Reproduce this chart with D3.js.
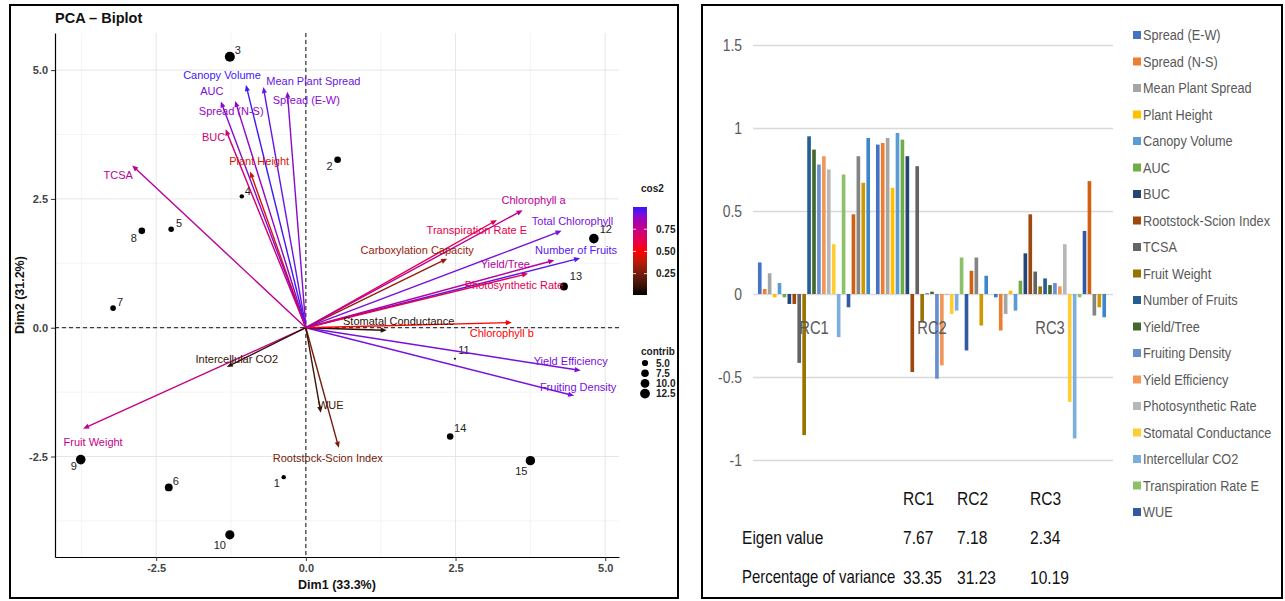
<!DOCTYPE html>
<html>
<head>
<meta charset="utf-8">
<script src="https://cdn.jsdelivr.net/npm/d3@7"></script>
<style>
  body { margin: 0; background: #fff; }
  svg { display: block; }
</style>
</head>
<body>
<div id="chart"></div>
<script>
// ---- biplot: individuals ----
var indIds = ["1", "2", "3", "4", "5", "6", "7", "8", "9", "10", "11", "12", "13", "14", "15"];
var indX = [-0.37, 0.53, -1.27, -1.07, -2.25, -2.29, -3.22, -2.74, -3.76, -1.27, 2.49, 4.81, 4.31, 2.41, 3.75];
var indY = [-2.9, 3.26, 5.26, 2.55, 1.91, -3.1, 0.38, 1.88, -2.56, -4.02, -0.6, 1.73, 0.8, -2.11, -2.58];
var indContrib = [2.5, 5.7, 13, 2.5, 4, 8, 4, 5.7, 12, 11, 0.5, 12, 8.3, 5.5, 11.5];

// ---- biplot: variables (same order as the bar series) ----
var varNames = ["Spread (E-W)", "Spread (N-S)", "Mean Plant Spread", "Plant Height", "Canopy Volume",
  "AUC", "BUC", "Rootstock-Scion Index", "TCSA", "Fruit Weight", "Number of Fruits", "Yield/Tree",
  "Fruiting Density", "Yield Efficiency", "Photosynthetic Rate", "Stomatal Conductance",
  "Intercellular CO2", "Transpiration Rate E", "WUE", "Carboxylation Capacity", "Chlorophyll a",
  "Chlorophyll b", "Total Chlorophyll"];
var varX = [-0.31, -1.18, -0.71, -0.93, -1.0, -1.42, -1.34, 0.55, -2.9, -3.72, 4.58, 4.15, 4.48, 4.59, 3.71, 1.35, -1.32, 3.19, 0.25, 2.36, 3.62, 3.44, 4.27];
var varY = [4.58, 4.4, 4.67, 3.03, 4.71, 4.39, 3.85, -2.33, 3.15, -1.96, 1.35, 1.31, -1.32, -0.83, 1.05, -0.05, -0.76, 2.09, -1.65, 1.34, 2.28, 0.1, 1.88];
var varCos2 = [0.9, 0.88, 0.95, 0.43, 0.99, 0.91, 0.71, 0.24, 0.78, 0.75, 0.97, 0.8, 0.93, 0.93, 0.63, 0.08, 0.1, 0.62, 0.12, 0.31, 0.78, 0.5, 0.93];

// ---- loadings bar chart ----
var rcCats = ["RC1", "RC2", "RC3"];
var rc1 = [0.19, 0.03, 0.125, -0.02, 0.066, -0.02, -0.06, -0.06, -0.415, -0.85, 0.95, 0.87, 0.78, 0.83, 0.75, 0.3, -0.26, 0.72, -0.08, 0.48, 0.83, 0.67, 0.94];
var rc2 = [0.9, 0.91, 0.94, 0.64, 0.97, 0.93, 0.83, -0.47, 0.77, -0.17, 0.004, 0.014, -0.51, -0.43, -0.004, -0.12, -0.1, 0.22, -0.34, 0.14, 0.22, -0.19, 0.11];
var rc3 = [-0.02, -0.22, -0.12, 0.02, -0.1, 0.08, 0.245, 0.48, 0.135, 0.046, 0.094, 0.054, 0.066, 0.046, 0.3, -0.65, -0.87, -0.02, 0.38, 0.68, -0.13, -0.08, -0.14];
var legendCount = 19; // excel legend is clipped after WUE
var eigenValues = ["7.67", "7.18", "2.34"];
var pctVariance = ["33.35", "31.23", "10.19"];
var barTicks = [-1, -0.5, 0, 0.5, 1, 1.5];
var barTickLabels = ["-1", "-0.5", "0", "0.5", "1", "1.5"];

var excelColors = ["#4472C4", "#ED7D31", "#A5A5A5", "#FFC000", "#5B9BD5", "#70AD47", "#264478",
  "#9E480E", "#636363", "#997300", "#255E91", "#43682B", "#698ED0", "#F1975A", "#B7B7B7",
  "#FFCD33", "#7CAFDD", "#8CC168", "#335AA1", "#D26012", "#848484", "#CC9A00", "#3E86C9"];

// label nudges (pixels) for the biplot text
var varNudge = [[19, 8], [-4, 10], [50, -6], [9, -11], [-24, -10], [-9, -11], [-12, 8], [-11, 10],
  [-14, 10], [10, 13], [-4, -8], [-49, 4], [4, -9], [-10, -9], [-14, 11], [12, -9], [10, -8],
  [-20, 10], [10, -8], [-30, -9], [11, -10], [-10, 10], [11, -10]];
var indNudge = [[-7, 6], [-8, 6], [8, -7], [6, -5], [8, -6], [7, -6], [7, -6], [-8, 7], [-7, 6],
  [-10, 10], [9, -9], [12, -10], [12, -10], [10, -8], [-9, 10]];

var W = 1285, H = 601;
var svg = d3.select("#chart").append("svg").attr("width", W).attr("height", H);
var sans = "'Liberation Sans', Arial, sans-serif";
var squeeze = 0.82; // stand-in for a narrow Calibri-like face

// text in the excel panel: Liberation Sans squeezed horizontally
function narrowText(sel, x, y, str, size, fill, anchor) {
  return sel.append("text")
    .attr("transform", "translate(" + x + "," + y + ") scale(" + squeeze + ",1)")
    .attr("text-anchor", anchor || "start").attr("dominant-baseline", "central")
    .attr("font-family", sans).attr("font-size", size).attr("fill", fill)
    .text(str);
}

// ================= LEFT: PCA biplot =================
svg.append("rect").attr("x", 10).attr("y", 5).attr("width", 668).attr("height", 593)
  .attr("fill", "none").attr("stroke", "#000").attr("stroke-width", 2);

var xL = d3.scaleLinear().domain([-4.19, 5.23]).range([55, 619]);
var yL = d3.scaleLinear().domain([-4.45, 5.72]).range([557, 33]);
var majors = [-2.5, 0, 2.5, 5];
var minors = [-3.75, -1.25, 1.25, 3.75];

var grid = svg.append("g");
grid.selectAll(".vmin").data(minors).enter().append("line")
  .attr("x1", function (d) { return xL(d); }).attr("x2", function (d) { return xL(d); })
  .attr("y1", 33).attr("y2", 557).attr("stroke", "#f1f1f1").attr("stroke-width", 0.8);
grid.selectAll(".hmin").data(minors).enter().append("line")
  .attr("y1", function (d) { return yL(d); }).attr("y2", function (d) { return yL(d); })
  .attr("x1", 55).attr("x2", 619).attr("stroke", "#f1f1f1").attr("stroke-width", 0.8);
grid.selectAll(".vmaj").data(majors).enter().append("line")
  .attr("x1", function (d) { return xL(d); }).attr("x2", function (d) { return xL(d); })
  .attr("y1", 33).attr("y2", 557).attr("stroke", "#e6e6e6").attr("stroke-width", 1);
grid.selectAll(".hmaj").data(majors).enter().append("line")
  .attr("y1", function (d) { return yL(d); }).attr("y2", function (d) { return yL(d); })
  .attr("x1", 55).attr("x2", 619).attr("stroke", "#e6e6e6").attr("stroke-width", 1);

// zero lines
svg.append("line").attr("x1", xL(0)).attr("x2", xL(0)).attr("y1", 33).attr("y2", 557)
  .attr("stroke", "#111").attr("stroke-dasharray", "4,3").attr("stroke-width", 1);
svg.append("line").attr("y1", yL(0)).attr("y2", yL(0)).attr("x1", 55).attr("x2", 619)
  .attr("stroke", "#111").attr("stroke-dasharray", "4,3").attr("stroke-width", 1);

var fmt = function (d) { return d3.format(".1f")(d).replace("\u2212", "-"); };
var axB = svg.append("g").attr("transform", "translate(0,557)")
  .call(d3.axisBottom(xL).tickValues(majors).tickFormat(fmt).tickSize(4).tickSizeOuter(0));
var axL = svg.append("g").attr("transform", "translate(55,0)")
  .call(d3.axisLeft(yL).tickValues(majors).tickFormat(fmt).tickSize(4).tickSizeOuter(0));
[axB, axL].forEach(function (a) {
  a.selectAll("text").attr("font-family", sans).attr("font-size", 11).attr("font-weight", "bold").attr("fill", "#444");
  a.select(".domain").attr("stroke", "#000").attr("stroke-width", 1.2);
  a.selectAll(".tick line").attr("stroke", "#333");
});

svg.append("text").attr("x", 55).attr("y", 23).text("PCA \u2013 Biplot")
  .attr("font-family", sans).attr("font-size", 14.5).attr("font-weight", "bold").attr("fill", "#111");
svg.append("text").attr("x", 337).attr("y", 589).attr("text-anchor", "middle").text("Dim1 (33.3%)")
  .attr("font-family", sans).attr("font-size", 12.5).attr("font-weight", "bold").attr("fill", "#111");
svg.append("text").attr("transform", "translate(24,295) rotate(-90)").attr("text-anchor", "middle")
  .text("Dim2 (31.2%)")
  .attr("font-family", sans).attr("font-size", 12.5).attr("font-weight", "bold").attr("fill", "#111");

var cosColor = d3.scaleLinear().domain([0, 0.5, 1]).range(["#000000", "#ff0000", "#2b1bff"])
  .interpolate(d3.interpolateLab);

// individuals
var areaScale = d3.scaleLinear().domain([0.5, 13.5]).range([1, 26]);
var rad = function (c) { return Math.sqrt(Math.max(1, areaScale(c))); };
svg.append("g").selectAll("circle").data(indIds).enter().append("circle")
  .attr("cx", function (d, i) { return xL(indX[i]); })
  .attr("cy", function (d, i) { return yL(indY[i]); })
  .attr("r", function (d, i) { return rad(indContrib[i]); })
  .attr("fill", "#000");
svg.append("g").selectAll("text").data(indIds).enter().append("text")
  .attr("x", function (d, i) { return xL(indX[i]) + indNudge[i][0]; })
  .attr("y", function (d, i) { return yL(indY[i]) + indNudge[i][1]; })
  .attr("text-anchor", "middle").attr("dominant-baseline", "central")
  .attr("font-family", sans).attr("font-size", 11).attr("fill", "#222")
  .text(function (d) { return d; });

// variable arrows
var arrows = svg.append("g");
varNames.forEach(function (name, i) {
  var x0 = xL(0), y0 = yL(0), x1 = xL(varX[i]), y1 = yL(varY[i]);
  var col = cosColor(varCos2[i]);
  var ang = Math.atan2(y1 - y0, x1 - x0), hl = 6, hw = 2.6;
  arrows.append("line").attr("x1", x0).attr("y1", y0)
    .attr("x2", x1 - Math.cos(ang) * 3).attr("y2", y1 - Math.sin(ang) * 3)
    .attr("stroke", col).attr("stroke-width", 1.4);
  var bx = x1 - Math.cos(ang) * hl, by = y1 - Math.sin(ang) * hl;
  arrows.append("path")
    .attr("d", "M" + x1 + "," + y1 +
      "L" + (bx + Math.sin(ang) * hw) + "," + (by - Math.cos(ang) * hw) +
      "L" + (bx - Math.sin(ang) * hw) + "," + (by + Math.cos(ang) * hw) + "Z")
    .attr("fill", col);
});
svg.append("g").selectAll("text").data(varNames).enter().append("text")
  .attr("x", function (d, i) { return xL(varX[i]) + varNudge[i][0]; })
  .attr("y", function (d, i) { return yL(varY[i]) + varNudge[i][1]; })
  .attr("text-anchor", "middle").attr("dominant-baseline", "central")
  .attr("font-family", sans).attr("font-size", 11)
  .attr("fill", function (d, i) { return cosColor(varCos2[i]); })
  .text(function (d) { return d; });

// cos2 legend
var defs = svg.append("defs");
var grad = defs.append("linearGradient").attr("id", "cosgrad")
  .attr("x1", 0).attr("y1", 1).attr("x2", 0).attr("y2", 0);
d3.range(0, 1.01, 0.1).forEach(function (t) {
  grad.append("stop").attr("offset", t).attr("stop-color", cosColor(t));
});
var yC = d3.scaleLinear().domain([0.01, 1]).range([295, 207]);
svg.append("text").attr("x", 641).attr("y", 192).text("cos2")
  .attr("font-family", sans).attr("font-size", 10).attr("font-weight", "bold").attr("fill", "#222");
svg.append("rect").attr("x", 633).attr("y", 207).attr("width", 14).attr("height", 88).attr("fill", "url(#cosgrad)");
[0.25, 0.5, 0.75].forEach(function (v) {
  svg.append("line").attr("x1", 633).attr("x2", 636).attr("y1", yC(v)).attr("y2", yC(v)).attr("stroke", "#fff").attr("stroke-width", 0.8);
  svg.append("line").attr("x1", 644).attr("x2", 647).attr("y1", yC(v)).attr("y2", yC(v)).attr("stroke", "#fff").attr("stroke-width", 0.8);
  svg.append("text").attr("x", 656).attr("y", yC(v)).attr("dominant-baseline", "central")
    .text(d3.format(".2f")(v))
    .attr("font-family", sans).attr("font-size", 10).attr("font-weight", "bold").attr("fill", "#222");
});

// contrib legend
var contribBreaks = [5, 7.5, 10, 12.5];
svg.append("text").attr("x", 641).attr("y", 355).text("contrib")
  .attr("font-family", sans).attr("font-size", 10).attr("font-weight", "bold").attr("fill", "#222");
contribBreaks.forEach(function (c, i) {
  var cy = 363 + i * 10.2;
  svg.append("circle").attr("cx", 645).attr("cy", cy).attr("r", rad(c)).attr("fill", "#000");
  svg.append("text").attr("x", 656).attr("y", cy).attr("dominant-baseline", "central")
    .text(d3.format(".1f")(c))
    .attr("font-family", sans).attr("font-size", 10).attr("font-weight", "bold").attr("fill", "#222");
});

// ================= RIGHT: loadings bar chart =================
svg.append("rect").attr("x", 702).attr("y", 5).attr("width", 580).attr("height", 593)
  .attr("fill", "none").attr("stroke", "#000").attr("stroke-width", 2);

var rcVals = [rc1, rc2, rc3];
var yR = d3.scaleLinear().domain([-1, 1.5]).range([460, 45]);
var x0R = d3.scaleBand().domain(rcCats).range([755, 1109]).paddingInner(0.05).paddingOuter(0.025);
var x1R = d3.scaleBand().domain(d3.range(varNames.length)).range([0, x0R.bandwidth()]).paddingInner(0.26);

var gy = svg.append("g").attr("transform", "translate(753,0)")
  .call(d3.axisLeft(yR).tickValues(barTicks).tickSize(-360).tickFormat(""));
gy.select(".domain").remove();
gy.selectAll(".tick line").attr("stroke", "#d9d9d9").attr("stroke-width", 1.5);
var yLab = svg.append("g");
barTicks.forEach(function (t, i) {
  narrowText(yLab, 742, yR(t), barTickLabels[i], 17, "#595959", "end");
});

var groups = svg.append("g").selectAll("g").data(rcCats).enter().append("g")
  .attr("transform", function (d) { return "translate(" + x0R(d) + ",0)"; });
groups.selectAll("rect").data(function (d, ci) {
  return rcVals[ci].map(function (v, si) { return { v: v, s: si }; });
}).enter().append("rect")
  .attr("x", function (d) { return x1R(d.s); })
  .attr("width", x1R.bandwidth())
  .attr("y", function (d) { return yR(Math.max(0, d.v)); })
  .attr("height", function (d) { return Math.max(0.8, Math.abs(yR(d.v) - yR(0))); })
  .attr("fill", function (d) { return excelColors[d.s]; });

var catLab = svg.append("g");
rcCats.forEach(function (c) {
  narrowText(catLab, x0R(c) + x0R.bandwidth() / 2, 327, c, 18, "#595959", "middle");
});

// legend (clipped like the original)
var leg = svg.append("g").selectAll("g").data(varNames.slice(0, legendCount)).enter().append("g")
  .attr("transform", function (d, i) { return "translate(1133," + (35 + i * 26.5) + ")"; });
leg.append("rect").attr("x", 0).attr("y", -4).attr("width", 8).attr("height", 8)
  .attr("fill", function (d, i) { return excelColors[i]; });
leg.each(function (d) {
  narrowText(d3.select(this), 10, 0, d, 15.5, "#595959");
});

// eigen table
var colX = [903, 957, 1030];
var tbl = svg.append("g");
rcCats.forEach(function (c, i) {
  narrowText(tbl, colX[i], 498, c, 19, "#111");
  narrowText(tbl, colX[i], 537, eigenValues[i], 19, "#111");
  narrowText(tbl, colX[i], 577, pctVariance[i], 19, "#111");
});
narrowText(tbl, 742, 537, "Eigen value", 19, "#111");
narrowText(tbl, 742, 577, "Percentage of variance", 18.2, "#111");
</script>
</body>
</html>
